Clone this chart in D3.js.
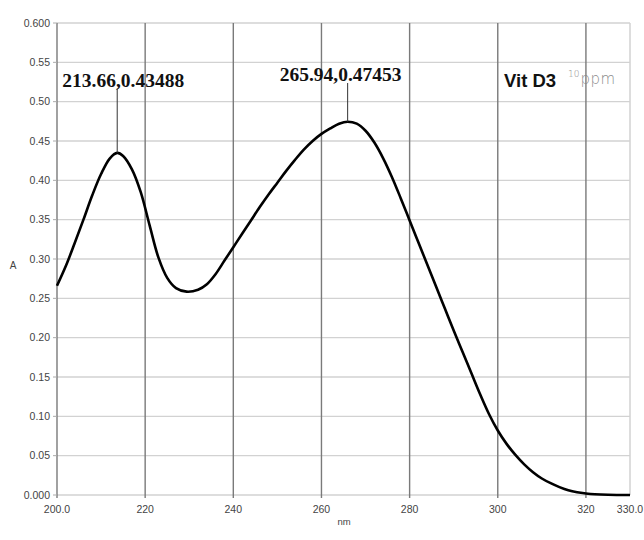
<!DOCTYPE html>
<html>
<head>
<meta charset="utf-8">
<script src="https://cdn.jsdelivr.net/npm/d3@7"></script>
<style>
  html, body { margin: 0; padding: 0; background: #fff; }
  svg { display: block; }
</style>
</head>
<body>
<svg id="chart" width="644" height="540"></svg>
<script>
// UV absorbance spectrum of vitamin D3 (10 ppm)
const wavelengths = [200, 202, 204, 206, 208, 210, 212, 213.66, 215, 217, 219, 221, 223, 225, 227, 229.4,
  232, 234, 236, 238, 240, 242, 244, 246, 248, 250, 252, 254, 256, 258, 260, 262, 264, 265.94,
  268, 270, 272, 274, 276, 278, 280, 282, 284, 286, 288, 290, 292, 294, 296, 298, 300,
  302, 304, 306, 308, 310, 312, 314, 316, 318, 320, 322, 325, 330];
const absorbance = [0.266, 0.291, 0.320, 0.350, 0.381, 0.408, 0.428, 0.43488, 0.431, 0.414, 0.385, 0.343, 0.302, 0.276, 0.263, 0.2585,
  0.261, 0.268, 0.281, 0.298, 0.315, 0.332, 0.349, 0.366, 0.382, 0.397, 0.412, 0.426, 0.439, 0.450, 0.459, 0.466, 0.472, 0.47453,
  0.472, 0.463, 0.448, 0.428, 0.404, 0.377, 0.349, 0.321, 0.293, 0.265, 0.237, 0.209, 0.182, 0.155, 0.128, 0.103, 0.082,
  0.065, 0.051, 0.039, 0.029, 0.021, 0.015, 0.010, 0.006, 0.0035, 0.002, 0.001, 0.0003, 0];

const xTicks = [200, 220, 240, 260, 280, 300, 320, 330];
const xTickLabels = ["200.0", "220", "240", "260", "280", "300", "320", "330.0"];
const yTicks = [0, 0.05, 0.10, 0.15, 0.20, 0.25, 0.30, 0.35, 0.40, 0.45, 0.50, 0.55, 0.60];
const yTickLabels = ["0.000", "0.05", "0.10", "0.15", "0.20", "0.25", "0.30", "0.35", "0.40", "0.45", "0.50", "0.55", "0.600"];

const peakX = [213.66, 265.94];
const peakY = [0.43488, 0.47453];
const peakLabels = ["213.66,0.43488", "265.94,0.47453"];

const plotLeft = 57, plotRight = 630, plotTop = 23, plotBottom = 495;
const svg = d3.select("#chart");

const x = d3.scaleLinear().domain([200, 330]).range([plotLeft, plotRight]);
const y = d3.scaleLinear().domain([0, 0.6]).range([plotBottom, plotTop]);

// horizontal grid
svg.append("g").selectAll("line").data(yTicks).join("line")
  .attr("x1", plotLeft).attr("x2", plotRight)
  .attr("y1", d => y(d)).attr("y2", d => y(d))
  .attr("stroke", "#d2d2d2").attr("stroke-width", 1.3);

// light right border
svg.append("line").attr("x1", plotRight).attr("x2", plotRight).attr("y1", plotTop).attr("y2", plotBottom)
  .attr("stroke", "#d2d2d2").attr("stroke-width", 1.5);

// vertical grid (darker)
const vGrid = [200, 220, 240, 260, 280, 300, 320];
svg.append("g").selectAll("line").data(vGrid).join("line")
  .attr("x1", d => x(d)).attr("x2", d => x(d))
  .attr("y1", plotTop).attr("y2", plotBottom + 3)
  .attr("stroke", "#7a7a7a").attr("stroke-width", 1.4);

// y tick marks
svg.append("g").selectAll("line").data(yTicks).join("line")
  .attr("x1", plotLeft - 4).attr("x2", plotLeft)
  .attr("y1", d => y(d)).attr("y2", d => y(d))
  .attr("stroke", "#aaa").attr("stroke-width", 1);

// y tick labels
svg.append("g").selectAll("text").data(yTicks).join("text")
  .attr("x", 50).attr("y", d => y(d) + 3.5)
  .attr("text-anchor", "end")
  .attr("font-family", "Liberation Sans, Arial, sans-serif")
  .attr("font-size", 10.5).attr("fill", "#444")
  .text((d, i) => yTickLabels[i]);

// x tick labels
svg.append("g").selectAll("text").data(xTicks).join("text")
  .attr("x", d => x(d)).attr("y", 513)
  .attr("text-anchor", "middle")
  .attr("font-family", "Liberation Sans, Arial, sans-serif")
  .attr("font-size", 10.5).attr("fill", "#444")
  .text((d, i) => xTickLabels[i]);

// axis titles
svg.append("text").attr("x", 344).attr("y", 525).attr("text-anchor", "middle")
  .attr("font-family", "Liberation Sans, Arial, sans-serif").attr("font-size", 9.5).attr("fill", "#444")
  .text("nm");
svg.append("text").attr("x", 13).attr("y", 269).attr("text-anchor", "middle")
  .attr("font-family", "Liberation Sans, Arial, sans-serif").attr("font-size", 10).attr("fill", "#444")
  .text("A");

// spectrum
const pts = wavelengths.map((w, i) => [w, absorbance[i]]);
svg.append("path")
  .attr("d", d3.line().x(d => x(d[0])).y(d => y(d[1])).curve(d3.curveCatmullRom.alpha(0.5))(pts))
  .attr("fill", "none").attr("stroke", "#000").attr("stroke-width", 2.6)
  .attr("stroke-linejoin", "round");

// peak annotations
const labelTop = [89, 83];
const labelDx = [6, -7];
const labelBase = [87, 81];
peakX.forEach((px, i) => {
  svg.append("line")
    .attr("x1", x(px)).attr("x2", x(px))
    .attr("y1", labelTop[i]).attr("y2", y(peakY[i]))
    .attr("stroke", "#333").attr("stroke-width", 1);
  svg.append("text")
    .attr("x", x(px) + labelDx[i]).attr("y", labelBase[i])
    .attr("text-anchor", "middle")
    .attr("font-family", "Liberation Serif, Times New Roman, serif")
    .attr("font-weight", "bold").attr("font-size", 19.5).attr("fill", "#111")
    .text(peakLabels[i]);
});

// sample title
svg.append("text").attr("x", 504).attr("y", 87)
  .attr("font-family", "Liberation Sans, Arial, sans-serif")
  .attr("font-weight", "bold").attr("font-size", 18.5).attr("fill", "#111")
  .text("Vit D3");
const note = svg.append("text").attr("x", 568).attr("y", 85)
  .attr("font-family", "DejaVu Sans, sans-serif").attr("font-weight", 200)
  .attr("fill", "#8a8a8a");
note.append("tspan").attr("font-size", 9).attr("dy", -8).text("10");
note.append("tspan").attr("font-size", 15).attr("dy", 7).attr("dx", 1).attr("letter-spacing", 0.5).text("ppm");
</script>
</body>
</html>
